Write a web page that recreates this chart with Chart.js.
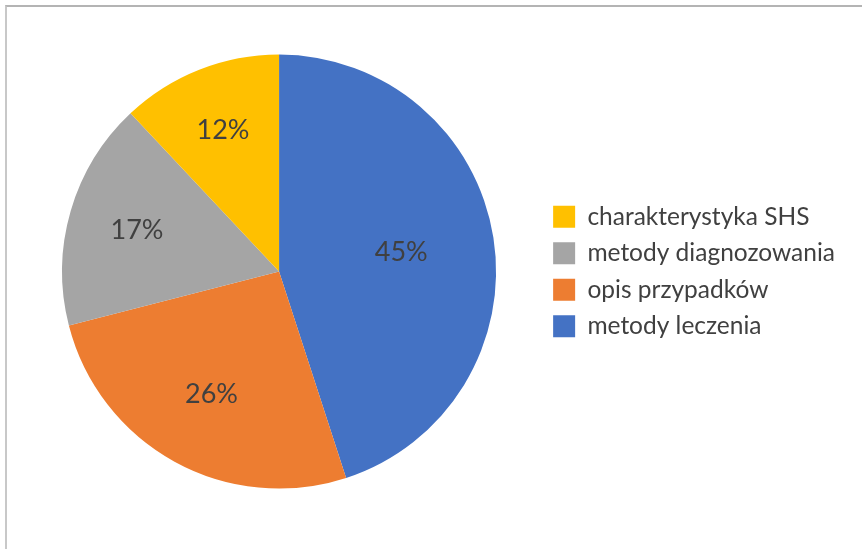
<!DOCTYPE html>
<html>
<head>
<meta charset="utf-8">
<script src="https://cdn.jsdelivr.net/npm/chart.js@4/dist/chart.umd.min.js"></script>
<style>
  html, body { margin: 0; padding: 0; background: #fff; }
  #wrap { position: relative; width: 862px; height: 549px; overflow: hidden; }
  #frame { position: absolute; left: 5px; top: 5px; right: -10px; bottom: -10px;
           border-top: 2px solid #b4b4b4; border-left: 2px solid #c8c8c8; }
  canvas { position: absolute; left: 0; top: 0; }
</style>
</head>
<body>
<div id="wrap">
  <div id="frame"></div>
  <canvas id="pie" width="862" height="549"></canvas>
</div>
<script>
// data, clockwise from 12 o'clock
const categories = ["metody leczenia", "opis przypadków", "metody diagnozowania", "charakterystyka SHS"];
const shares = [45, 26, 17, 12];
const colors = ["#4472C4", "#ED7D31", "#A5A5A5", "#FFC000"];

const textColor = "#404040";
const fontFamily = "Lato, 'Open Sans', sans-serif";

// percentage labels inside the slices
const pctLabels = {
  id: "pctLabels",
  afterDatasetsDraw(chart) {
    const ctx = chart.ctx;
    const meta = chart.getDatasetMeta(0);
    const total = shares.reduce((a, b) => a + b, 0);
    ctx.save();
    ctx.font = "27px " + fontFamily;
    ctx.fillStyle = textColor;
    ctx.textAlign = "center";
    ctx.textBaseline = "middle";
    meta.data.forEach((arc, i) => {
      const p = shares[i] / total;
      const mid = (arc.startAngle + arc.endAngle) / 2;
      const r = arc.outerRadius * (0.75 - 0.4 * p);
      ctx.fillText(shares[i] + "%", arc.x + Math.cos(mid) * r, arc.y + Math.sin(mid) * r);
    });
    ctx.restore();
  }
};

new Chart(document.getElementById("pie"), {
  type: "pie",
  data: {
    labels: categories,
    datasets: [{
      data: shares,
      backgroundColor: colors,
      borderWidth: 0
    }]
  },
  options: {
    responsive: false,
    animation: false,
    layout: { padding: { left: 17, right: 17, top: 54.5, bottom: 60.5 } },
    plugins: {
      tooltip: { enabled: false },
      legend: {
        position: "right",
        reverse: true,
        labels: {
          boxWidth: 22,
          boxHeight: 22,
          padding: 12,
          color: textColor,
          font: { family: fontFamily, size: 24.5 }
        }
      }
    }
  },
  plugins: [pctLabels]
});
</script>
</body>
</html>
